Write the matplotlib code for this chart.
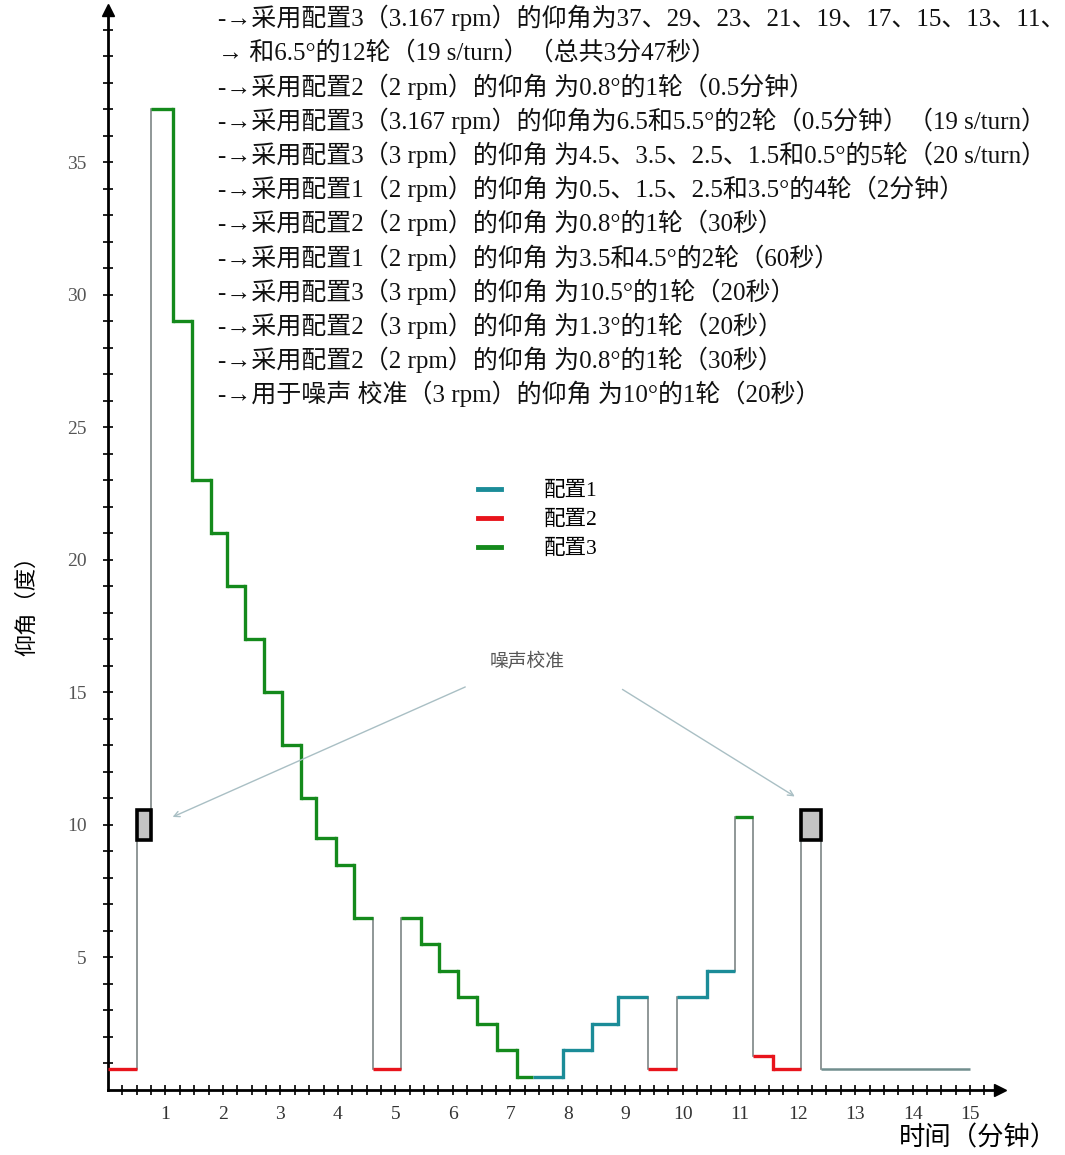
import matplotlib
matplotlib.use("Agg")
import matplotlib.pyplot as plt
from matplotlib.lines import Line2D
from matplotlib.patches import Rectangle

plt.rcParams['font.family'] = ['Liberation Serif', 'Noto Sans CJK SC', 'DejaVu Sans']

# step schedule: time edges (min), elevation angle (deg), configuration
# config 0 = noise calibration box, -1 = tail after the last run
edges = [0, 0.5, 0.75, 1.13, 1.46, 1.79, 2.07, 2.38, 2.71, 3.03, 3.36, 3.62, 3.97,
         4.28, 4.61, 5.10, 5.44, 5.76, 6.09, 6.42, 6.77, 7.11, 7.40, 7.92, 8.42,
         8.88, 9.40, 9.90, 10.42, 10.91, 11.22, 11.57, 12.06, 12.41, 15.0]
angles = [0.8, 10, 37, 29, 23, 21, 19, 17, 15, 13, 11, 9.5, 8.5, 6.5, 0.8,
          6.5, 5.5, 4.5, 3.5, 2.5, 1.5, 0.5, 0.5, 1.5, 2.5, 3.5, 0.8, 3.5, 4.5,
          10.3, 1.3, 0.8, 10, 0.8]
configs = [2, 0, 3, 3, 3, 3, 3, 3, 3, 3, 3, 3, 3, 3, 2, 3, 3, 3, 3, 3, 3, 3,
           1, 1, 1, 1, 2, 1, 1, 3, 2, 2, 0, -1]

cfg_names = ['配置1', '配置2', '配置3']
x_ticks = list(range(1, 16))
y_ticks = [5, 10, 15, 20, 25, 30, 35]

notes = [
    "-→采用配置3（3.167 rpm）的仰角为37、29、23、21、19、17、15、13、11、9.5、8.5",
    "→ 和6.5°的12轮（19 s/turn）（总共3分47秒）",
    "-→采用配置2（2 rpm）的仰角 为0.8°的1轮（0.5分钟）",
    "-→采用配置3（3.167 rpm）的仰角为6.5和5.5°的2轮（0.5分钟）（19 s/turn）",
    "-→采用配置3（3 rpm）的仰角 为4.5、3.5、2.5、1.5和0.5°的5轮（20 s/turn）",
    "-→采用配置1（2 rpm）的仰角 为0.5、1.5、2.5和3.5°的4轮（2分钟）",
    "-→采用配置2（2 rpm）的仰角 为0.8°的1轮（30秒）",
    "-→采用配置1（2 rpm）的仰角 为3.5和4.5°的2轮（60秒）",
    "-→采用配置3（3 rpm）的仰角 为10.5°的1轮（20秒）",
    "-→采用配置2（3 rpm）的仰角 为1.3°的1轮（20秒）",
    "-→采用配置2（2 rpm）的仰角 为0.8°的1轮（30秒）",
    "-→用于噪声 校准（3 rpm）的仰角 为10°的1轮（20秒）",
]

colors = {1: '#1b8c98', 2: '#e8141c', 3: '#148a1c', -1: '#718e8e'}
GRAY = '#7d8585'

W, H = 1065, 1155
fig = plt.figure(figsize=(W / 100, H / 100), dpi=100, facecolor='white')
ax = fig.add_axes([108 / W, 65 / H, 892 / W, 1080 / H])
ax.set_xlim(0, 15.52)
ax.set_ylim(0, 40.75)

# horizontal runs + vertical connectors
for i in range(len(angles)):
    c = configs[i]
    t0, t1, a = edges[i], edges[i + 1], angles[i]
    if c == 0:
        ax.add_patch(Rectangle((t0, a - 0.55), t1 - t0, 1.1, facecolor='#c4c4c4',
                               edgecolor='black', lw=2.6, zorder=4))
    else:
        ax.plot([t0, t1], [a, a], color=colors[c], lw=2.4 if c > 0 else 1.8,
                solid_capstyle='butt', zorder=3)
    if i > 0:
        prev = configs[i - 1]
        if prev == c and c > 0:
            ax.plot([t0, t0], [angles[i - 1], a], color=colors[c], lw=2.4, zorder=3)
        else:
            ax.plot([t0, t0], [angles[i - 1], a], color=GRAY, lw=1.2, zorder=2)

# legend
handles = [Line2D([], [], color=colors[k], lw=3.5) for k in (1, 2, 3)]
fig.legend(handles, cfg_names, loc='upper left', bbox_to_anchor=(478 / W, 1 - 481 / H),
           frameon=False, fontsize=15.5, handlelength=1.05, handletextpad=2.0,
           labelspacing=0.42, borderpad=0, borderaxespad=0)

# noise calibration callout
ax.text(7.3, 16.15, '噪声校准', fontsize=13.5, color='#555555', ha='center', va='center',
        family=['Noto Sans CJK SC'])
for start, target in [((6.26, 15.25), (1.08, 10.26)), ((8.91, 15.17), (11.99, 11.02))]:
    ax.annotate('', xy=target, xytext=start,
                arrowprops=dict(arrowstyle='->', color='#a9bfc4', lw=1.0))

# axes styling
for s in ['top', 'right']:
    ax.spines[s].set_visible(False)
for s in ['left', 'bottom']:
    ax.spines[s].set_linewidth(2)
ax.plot(1, 0, '>k', ms=9, transform=ax.transAxes, clip_on=False)
ax.plot(0, 1, '^k', ms=9, transform=ax.transAxes, clip_on=False)

ax.set_xticks(x_ticks)
ax.set_xticklabels([str(v) for v in x_ticks])
ax.set_xticks([k * 0.25 for k in range(1, 62)], minor=True)
ax.set_yticks(y_ticks)
ax.set_yticklabels([str(v) for v in y_ticks])
ax.set_yticks(range(1, 41), minor=True)
ax.tick_params(which='both', direction='inout', length=7, width=1.4, color='#222222')
ax.tick_params(axis='x', labelsize=14, pad=8, labelcolor='#333333')
ax.tick_params(axis='y', labelsize=14, pad=12, labelcolor='#555555')

fig.text(27 / W, 1 - 600 / H, '仰角（度）', rotation=90, fontsize=16, ha='center',
         va='center', family=['Noto Sans CJK SC'])
fig.text(978 / W, 1 - 1138 / H, '时间（分钟）', fontsize=19, ha='center', va='center',
         family=['Noto Sans CJK SC'])

# schedule description on top
for k, line in enumerate(notes):
    fig.text(218 / W, 1 - (18 + 34.2 * k) / H, line, fontsize=18, ha='left',
             va='center', color='#111111')

fig.savefig('out.png', dpi=100, facecolor='white')
